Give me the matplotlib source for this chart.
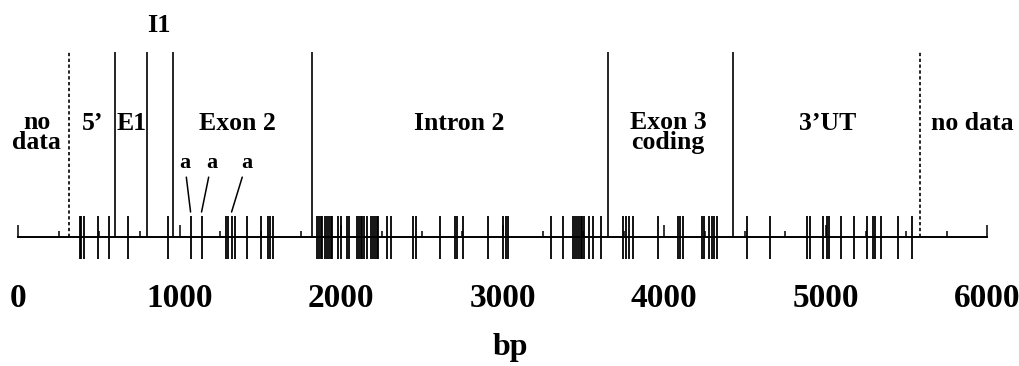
import matplotlib
matplotlib.use("Agg")
import matplotlib.pyplot as plt
from matplotlib.ticker import MultipleLocator, FixedLocator

# ---------------- data (bp) ----------------
variant_sites = [378, 390, 403, 490, 558, 676, 924, 1066, 1134, 1283, 1295, 1320, 1339,
                 1413, 1500, 1543, 1558, 1574,
                 1847, 1859, 1871, 1878, 1897, 1909, 1921, 1933, 1940, 1977, 1996,
                 2033, 2045, 2095, 2107, 2119, 2131, 2143, 2157, 2182, 2194, 2206,
                 2218, 2225, 2281, 2306, 2442, 2461, 2610, 2703, 2715, 2752, 2907,
                 3000, 3019, 3031, 3297, 3372, 3434, 3446, 3458, 3470, 3482, 3494,
                 3502, 3533, 3558, 3607, 3744, 3762, 3781, 3806, 3961, 4085, 4097,
                 4116, 4233, 4246, 4277, 4295, 4308, 4326, 4512, 4655, 4884, 4903,
                 4983, 5008, 5020, 5095, 5176, 5258, 5293, 5306, 5343, 5448, 5535]

annotated_sites = [1066, 1134, 1320]
annotated_text = ["a", "a", "a"]

region_bounds = [595, 798, 957, 1818, 3649, 4428]
nodata_bounds = [310, 5585]

region_names = ["no\ndata", "5\u2019", "E1", "Exon 2", "Intron 2",
                "Exon 3\ncoding", "3\u2019UT", "no data"]
intron1_name = "I1"

major_ticks = [0, 1000, 2000, 3000, 4000, 5000, 6000]
tick_labels = ["0", "1000", "2000", "3000", "4000", "5000", "6000"]
axis_label = "bp"

# ---------------- layout ----------------
W, H = 1020, 366
base_px = 237
label_x = [112, 459, 700, 1357, 2733, 4023, 5014, 5907]
annot_text_x = [1029, 1196, 1413]
i1_x = 868

font = dict(family="Liberation Serif", weight="bold")

fig = plt.figure(figsize=(W / 100, H / 100), dpi=100)
ax = fig.add_axes([0, (H - base_px) / H, 1, base_px / H])
ax.set_xlim(-114.6, 6204.4)
ax.set_ylim(0, base_px)

for s in ["left", "right", "top"]:
    ax.spines[s].set_visible(False)
ax.spines["bottom"].set_bounds(0, 6000)
ax.spines["bottom"].set_linewidth(1.4)
ax.set_yticks([])

ax.xaxis.set_major_locator(FixedLocator(major_ticks))
ax.set_xticklabels(tick_labels, fontsize=24, **font)
ax.xaxis.set_minor_locator(MultipleLocator(250))
ax.tick_params(axis="x", which="major", direction="in", length=8.6, width=1.1, pad=33)
ax.tick_params(axis="x", which="minor", direction="in", length=4.3, width=1.1)
ax.set_xlabel(axis_label, fontsize=23, labelpad=14, **font)

# variant ticks
ax.vlines(variant_sites, -22, 21, colors="black", lw=1.3, clip_on=False)

# region boundaries
ax.vlines(region_bounds, 0, 185, colors="black", lw=1.2)
ax.vlines(nodata_bounds, 0, 185, colors="black", lw=1.2, linestyles=(0, (2, 1.5)))

# region labels (baseline of the first line at ~130 px from top)
for name, x in zip(region_names, label_x):
    n_extra = name.count("\n")
    ax.text(x, 107 - 19 * n_extra, name, ha="center", va="baseline", fontsize=18.5,
            linespacing=0.82, **font)
ax.text(i1_x, 205, intron1_name, ha="center", va="baseline", fontsize=19, **font)

# annotated sites
for site, tx, t in zip(annotated_sites, annot_text_x, annotated_text):
    ax.annotate(t, xy=(site, 25), xytext=(tx, 69), ha="center", va="baseline",
                fontsize=16, **font,
                arrowprops=dict(arrowstyle="-", lw=1.1, color="black",
                                shrinkA=1, shrinkB=0))

fig.savefig("out.png", dpi=100)
